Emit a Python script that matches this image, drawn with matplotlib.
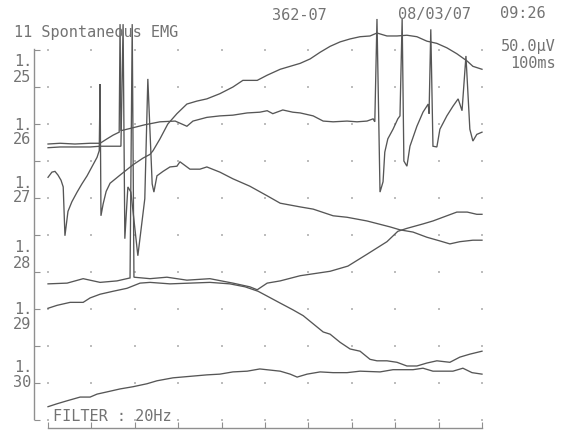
import matplotlib
matplotlib.use("Agg")
import matplotlib.pyplot as plt
import numpy as np

# ---- data: time in ms, amplitude in display uV (50 uV / division) ----
t_30 = [0, 21, 44, 74, 97, 113, 136, 166, 196, 228, 251, 288, 327, 366, 396, 426, 459, 488, 535, 558,
        574, 597, 627, 657, 689, 719, 765, 795, 841, 864, 887, 933, 956, 977, 1000]
v_30 = [18, 22, 26, 31, 31, 35, 38, 42, 45, 49, 53, 57, 59, 61, 62, 65, 66, 69, 66, 62,
        58, 62, 65, 64, 64, 66, 65, 68, 68, 70, 66, 66, 70, 64, 62]

t_29 = [0, 21, 51, 81, 97, 120, 150, 182, 212, 235, 281, 327, 373, 419, 454, 484, 500, 535, 564, 588,
        611, 634, 650, 673, 696, 719, 742, 758, 781, 804, 827, 850, 873, 896, 926, 949, 972, 1000]
v_29 = [151, 155, 159, 159, 165, 170, 174, 178, 185, 186, 184, 185, 186, 184, 180, 174, 169, 158, 149, 141,
        130, 119, 116, 105, 96, 93, 82, 80, 80, 78, 73, 73, 77, 80, 78, 85, 89, 93]

t_28 = [0, 44, 81, 120, 159, 189, 194, 198, 235, 274, 320, 373, 426, 465, 482, 505, 535, 581, 650, 691,
        735, 781, 806, 827, 864, 887, 919, 942, 966, 988, 1000]
v_28 = [184, 185, 191, 186, 188, 192, 535, 193, 191, 193, 189, 191, 185, 180, 176, 185, 188, 195, 201, 208,
        224, 241, 255, 259, 265, 269, 276, 281, 281, 278, 278]

t_27 = [0, 9, 16, 23, 30, 35, 39, 46, 55, 67, 78, 90, 101, 113, 118, 120, 122, 127, 134, 143,
        166, 196, 219, 235, 242, 258, 276, 297, 320, 343, 366, 396, 426, 449, 482, 505, 535, 558, 581, 604,
        627, 650, 673, 696, 719, 742, 758, 781, 804, 827, 850, 873, 896, 919, 942, 966, 979, 1000]
v_27 = [328, 335, 336, 331, 324, 315, 249, 282, 295, 308, 319, 330, 342, 355, 364, 454, 276, 292, 309, 320,
        331, 345, 354, 359, 364, 380, 400, 414, 427, 431, 434, 441, 450, 459, 459, 466, 474, 478, 482, 488,
        497, 505, 511, 515, 518, 519, 523, 519, 519, 520, 518, 512, 509, 503, 495, 485, 478, 474]

t_26a = [0, 28, 62, 97, 120, 136, 150, 164, 166, 168, 196, 223, 258, 293, 320, 334, 366, 396, 426, 459,
         488, 505, 518, 541, 564, 581, 611, 634, 657, 689, 712, 735, 749, 753, 758, 765, 772, 776, 783, 795,
         806, 811, 816, 820, 827, 834, 850, 864, 876, 878, 882, 887, 896, 903, 919, 933, 945, 954, 963, 972,
         979, 988, 1000]
v_26a = [373, 374, 373, 374, 374, 380, 385, 389, 535, 391, 395, 399, 403, 404, 397, 404, 409, 411, 412, 415,
         416, 418, 414, 419, 416, 415, 411, 404, 403, 404, 403, 404, 407, 403, 542, 308, 322, 362, 380, 393,
         407, 411, 542, 350, 343, 370, 397, 416, 427, 414, 528, 370, 369, 393, 411, 424, 434, 418, 492, 393,
         377, 386, 389]

t_26b = [0, 28, 62, 97, 120, 143, 168, 173, 177, 184, 191, 207, 223, 230, 240, 244, 251, 265, 281, 297,
         304, 327, 350, 366, 396, 426, 465, 505, 535, 581, 611, 657, 689, 735, 788, 811, 841, 873, 903, 926,
         949, 979, 1000]
v_26b = [368, 369, 369, 369, 370, 370, 370, 535, 245, 315, 308, 222, 299, 461, 319, 308, 330, 336, 342, 343,
         349, 339, 339, 342, 335, 326, 316, 303, 293, 288, 285, 276, 274, 269, 261, 257, 254, 247, 242, 238,
         241, 243, 243]

traces = [(t_26a, v_26a), (t_26b, v_26b), (t_27, v_27), (t_28, v_28), (t_29, v_29), (t_30, v_30)]

trace_numbers = ["25", "26", "27", "28", "29", "30"]
grid_times = list(range(0, 1001, 100))
grid_levels = list(range(0, 501, 50))

title_text = "11 Spontaneous EMG"
patient_id = "362-07"
date_text = "08/03/07"
time_text = "09:26"
gain_text = "50.0\u00b5V"
sweep_text = "100ms"
filter_text = "FILTER : 20Hz"

# ---- figure ----
W, H = 562, 431
fig = plt.figure(figsize=(W / 100, H / 100), dpi=100)
fig.patch.set_facecolor("white")

def fpx(x, y):
    return x / W, 1 - y / H

ax = fig.add_axes([34 / W, 1 - 429 / H, 448 / W, (429 - 50) / H])
ax.set_xlim(-32.3, 1000)
ax.set_ylim(-10.8, 501.4)
ax.set_facecolor("none")

axis_col = "#8f8f8f"
for s in ["top", "right"]:
    ax.spines[s].set_visible(False)
ax.spines["left"].set_color(axis_col)
ax.spines["bottom"].set_color(axis_col)
ax.spines["left"].set_linewidth(1.0)
ax.spines["bottom"].set_linewidth(1.0)
ax.spines["left"].set_bounds(1, 501)
ax.spines["bottom"].set_bounds(0, 1000)

ax.set_xticks(grid_times)
ax.set_yticks(grid_levels)
ax.tick_params(axis="both", direction="in", colors=axis_col, labelleft=False, labelbottom=False,
               length=4, width=0.8)

# dotted grid
gx, gy = np.meshgrid(grid_times, grid_levels)
ax.plot(gx.ravel(), gy.ravel(), linestyle="none", marker="s", markersize=1.6,
        color="#bdbdbd", markeredgewidth=0, clip_on=False)

trace_col = "#565656"
for t, v in traces:
    ax.plot(t, v, color=trace_col, linewidth=0.95, clip_on=False, solid_joinstyle="miter")

txt_col = "#737373"
font = dict(family="DejaVu Sans Mono", fontsize=11, color=txt_col, va="center", ha="left")

fig.text(*fpx(14, 33), title_text, **font)
fig.text(*fpx(272, 15), patient_id, **font)
fig.text(*fpx(398, 14), date_text, **font)
fig.text(*fpx(500, 14), time_text, **font)
fig.text(*fpx(501, 46), gain_text, **font)
fig.text(*fpx(510, 63), sweep_text, **font)
fig.text(*fpx(53, 417), filter_text, **font)

label_y = [77, 140, 198, 263, 325, 383]
for lab, yc in zip(trace_numbers, label_y):
    fig.text(*fpx(14, yc - 15), "1.", **font)
    fig.text(*fpx(13, yc), lab, **font)

fig.savefig("out.png", dpi=100, facecolor="white")
